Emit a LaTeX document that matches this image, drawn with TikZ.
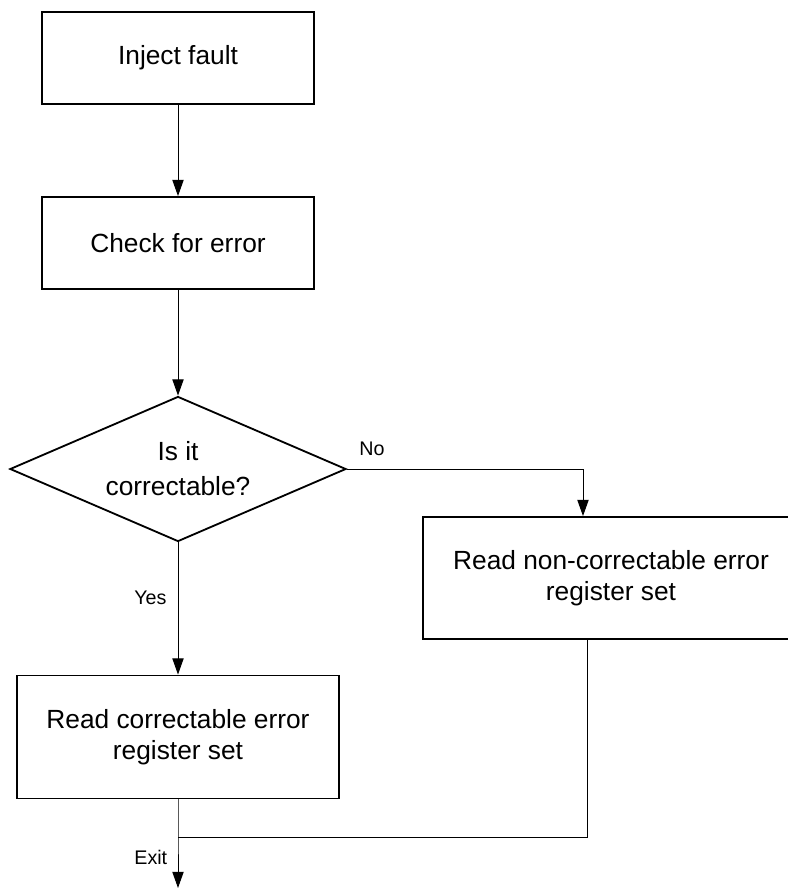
\documentclass[tikz,border=0pt]{standalone}
\usepackage{fontspec}
\setmainfont{Liberation Sans}
\usetikzlibrary{arrows.meta,positioning,shapes.geometric}
\tikzset{
  proc/.style={draw,line width=1.3pt,minimum width=6.8cm,minimum height=2.3cm,align=center,font=\fontsize{18.7}{22}\selectfont},
  cond/.style={diamond,draw,line width=1.3pt,aspect=2.32,minimum width=8.4cm,minimum height=3.625cm,inner sep=0pt,align=center,font=\fontsize{18.7}{25}\selectfont},
  arr/.style={-{Triangle[length=11.5pt,width=8pt]},line width=0.7pt},
  lbl/.style={font=\fontsize{14}{16}\selectfont},
}
\begin{document}
\begin{tikzpicture}[x=0.025cm,y=-0.025cm]
  \clip (0,0) rectangle (788,888);
  \node[proc] (inj) at (178,58) {Inject fault};
  \node[proc] (chk) at (178,243) {Check for error};
  \node[cond] (q) at (178,469) {Is it\\correctable?};
  \node[proc,minimum width=9.4cm,minimum height=3.05cm] (nc) at (611,578) {Read non-correctable error\\register set};
  \node[proc,minimum width=8.05cm,minimum height=3.075cm] (rc) at (178,737) {Read correctable error\\register set};
  \coordinate (join) at (178,837);
  \coordinate (out) at (178,888);
  % main line
  \draw[arr] (inj) -- (chk);
  \draw[arr] (chk) -- (q);
  \draw[arr] (q.south) -- node[lbl,pos=0.42,left=4.5pt]{Yes} (rc);
  \draw[arr] (q.east) -| node[lbl,pos=0.053,above=6pt]{No} ([xshift=-0.7cm]nc.north);
  % both branches end here
  \draw[line width=0.7pt] ([xshift=-0.6cm]nc.south) |- (join);
  \draw[arr] (rc.south) -- (join) -- node[lbl,pos=0.4,left=4pt]{Exit} (out);
\end{tikzpicture}
\end{document}
